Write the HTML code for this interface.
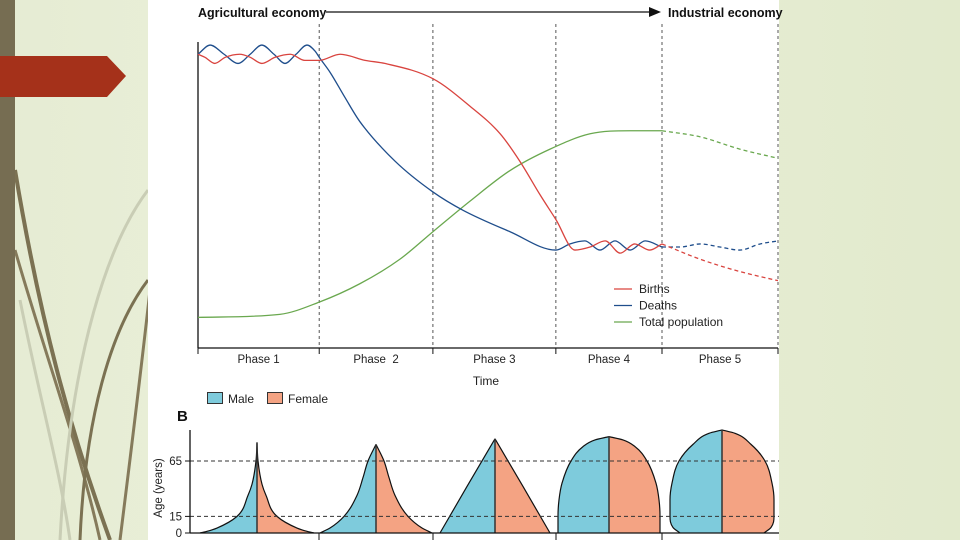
<!DOCTYPE html>
<html><head><meta charset="utf-8">
<style>
html,body{margin:0;padding:0}
body{width:960px;height:540px;overflow:hidden;position:relative;background:linear-gradient(90deg,#e6ecd3 0%,#e9efd9 30%,#e2eacd 100%);font-family:"Liberation Sans",sans-serif}
svg{position:absolute;left:0;top:0}
</style></head>
<body>
<svg width="960" height="540">
  <g>
    <path d="M150,290 C140,380 130,460 120,540" stroke="#857a5b" stroke-width="3" fill="none"/>
    <path d="M15,170 C40,320 70,430 110,540" stroke="#7b7152" stroke-width="4" fill="none"/>
    <path d="M15,250 C50,370 80,450 100,540" stroke="#857a5b" stroke-width="3" fill="none"/>
    <path d="M148,280 C110,330 85,420 80,540" stroke="#7b7152" stroke-width="3" fill="none"/>
    <path d="M148,190 C110,240 70,350 60,540" stroke="#c9cdb5" stroke-width="3" fill="none"/>
    <path d="M20,300 C40,400 60,470 70,540" stroke="#c9cdb5" stroke-width="3" fill="none"/>
    <rect x="0" y="0" width="15" height="540" fill="#766d52"/>
    <path d="M0,56 L107,56 L126,76 L107,97 L0,97 Z" fill="#a5311a"/>
  </g>
  <rect x="148" y="0" width="631" height="540" fill="#ffffff"/>
  <g id="chartA"></g>
  <g id="chartB"></g>
</svg>
<script>
// ---- Chart A data ----
const phaseLabels = ["Phase 1","Phase\u00a0\u00a02","Phase 3","Phase 4","Phase 5"];
const phaseBounds = [0, 20.9, 40.5, 61.7, 80, 100];
const projectionStart = 80;
const birthT = [0,1.2,2.9,4.7,7.2,9,11,13.3,15.9,18.4,20.9,24.5,28.8,32.2,40.5,46.9,52.1,55.5,59,61.7,65,67.6,70.2,72.8,75.3,77.9,80,86.6,93.4,100];
const birthV = [96,95,93,95,96,95,93,95,96,94,94,96,94,93,88,79,70,61,50,42,32,33,35,31,34,32,34,29,25,22];
const deathT = [0,2.1,4.5,6.9,9,11,13.1,15,16.9,18.8,20.2,20.9,22.8,25.3,27.9,34,40.5,45.7,53.8,61.7,64.1,66.7,69.3,71.9,74.5,77.1,80,83.1,86.6,90,93.4,96.9,100];
const deathV = [96,99,96,93,96,99,96,93,96,99,97,95,90,82,74,61,51,45,38,32,34,35,32,35,32,35,33,33,34,33,32,34,35];
const popT = [0,14.1,20.9,27.9,34.8,40.5,46.9,53.8,60.7,67.6,74.5,80,86.6,93.4,100];
const popV = [10,11,15,21,29,38,48,58,65,70,71,71,69,65,62];
const legendLabels = ["Births","Deaths","Total population"];

// ---- Chart B data ----
const pyramidAges = [
  [0,1.5,4.5,15,34,44,65,81],
  [0,4.5,15,34,50,65,80],
  [0,42,85],
  [0,15,30,45,65,78,84,87],
  [0,5,15,30,45,65,80,90,93]
];
const pyramidHalfWidths = [
  [57,50,40,20,9,5,1,0],
  [56,46,32,19,13,8,0],
  [55,28,0],
  [51,51,50,47,38,26,14,0],
  [42,49,52,52,50,43,29,13,0]
];
const pyramidSmooth = [true,true,false,true,true];
const ageTicks = [0,15,65];

const NS="http://www.w3.org/2000/svg";
function mk(tag,attrs,parent){const e=document.createElementNS(NS,tag);for(const k in attrs)e.setAttribute(k,attrs[k]);parent.appendChild(e);return e;}
function mono(us,ws,map){
  const n=us.length;const d=[],m=new Array(n);
  for(let i=0;i<n-1;i++)d.push((ws[i+1]-ws[i])/(us[i+1]-us[i]));
  m[0]=d[0];m[n-1]=d[n-2];
  for(let i=1;i<n-1;i++){m[i]=(d[i-1]*d[i]<=0)?0:(d[i-1]+d[i])/2;}
  for(let i=0;i<n-1;i++){if(d[i]===0){m[i]=0;m[i+1]=0;continue;}const a=m[i]/d[i],b=m[i+1]/d[i],s=a*a+b*b;if(s>9){const tt=3/Math.sqrt(s);m[i]=tt*a*d[i];m[i+1]=tt*b*d[i];}}
  let p=map(us[0],ws[0]);let str="M"+p[0]+","+p[1];
  for(let i=0;i<n-1;i++){const h=us[i+1]-us[i];
    const c1=map(us[i]+h/3,ws[i]+m[i]*h/3),c2=map(us[i+1]-h/3,ws[i+1]-m[i+1]*h/3),e=map(us[i+1],ws[i+1]);
    str+=" C"+c1[0]+","+c1[1]+" "+c2[0]+","+c2[1]+" "+e[0]+","+e[1];}
  return str;
}

// Chart A
const A=document.getElementById('chartA');
const X0=198,X1=778,YB=348,YT=42;
const xS=t=>X0+(t/100)*(X1-X0);
const yS=v=>YB-(v/100)*(YB-YT);
let t;
t=mk('text',{x:198,y:17,'font-size':12.5,'font-weight':'bold',fill:'#111'},A);t.textContent="Agricultural economy";

t=mk('line',{x1:326,y1:12,x2:650,y2:12,stroke:'#111','stroke-width':1.3},A);

mk('path',{d:'M649,7 L661,12 L649,17 Z',fill:'#111'},A);
t=mk('text',{x:668,y:17,'font-size':12.5,'font-weight':'bold',fill:'#111'},A);t.textContent="Industrial economy";

for(let i=1;i<phaseBounds.length;i++){
  const x=xS(phaseBounds[i]);
  const l=mk('line',{x1:x,y1:24,x2:x,y2:YB,stroke:'#555','stroke-width':1,'stroke-dasharray':'3,3'},A);
  
  
}
mk('line',{x1:X0,y1:YT,x2:X0,y2:YB,stroke:'#111','stroke-width':1.3},A);
mk('line',{x1:X0,y1:YB,x2:X1,y2:YB,stroke:'#111','stroke-width':1.3},A);
for(let i=0;i<phaseBounds.length;i++){const x=xS(phaseBounds[i]);mk('line',{x1:x,y1:YB,x2:x,y2:YB+6,stroke:'#111'},A);}
phaseLabels.forEach((p,i)=>{
  const tx=mk('text',{x:(xS(phaseBounds[i])+xS(phaseBounds[i+1]))/2,y:363,'font-size':11.5,'text-anchor':'middle',fill:'#222'},A);
  tx.textContent=p;
  
  
});
t=mk('text',{x:486,y:385,'font-size':12,'text-anchor':'middle',fill:'#222'},A);t.textContent="Time";

const mapA=(u,w)=>[xS(u).toFixed(2),yS(w).toFixed(2)];
function series(T,V,color,name){
  const sT=[],sV=[],dT=[],dV=[];
  T.forEach((tt,i)=>{if(tt<=projectionStart){sT.push(tt);sV.push(V[i]);}if(tt>=projectionStart){dT.push(tt);dV.push(V[i]);}});
  const s=mk('path',{d:mono(sT,sV,mapA),fill:'none',stroke:color,'stroke-width':1.3},A);
  
  
  const d=mk('path',{d:mono(dT,dV,mapA),fill:'none',stroke:color,'stroke-width':1.3,'stroke-dasharray':'4,3'},A);
  
  
}
series(popT,popV,'#6aa84f','population');
series(deathT,deathV,'#1f4e8c','deaths');
series(birthT,birthV,'#d9443f','births');
const lc=['#d9443f','#1f4e8c','#6aa84f'];
legendLabels.forEach((lab,i)=>{
  const y=289+i*16.5;
  const g=mk('g',{},A);
  
  
  mk('line',{x1:614,y1:y,x2:632,y2:y,stroke:lc[i],'stroke-width':1.3},g);
  const tx=mk('text',{x:639,y:y+4,'font-size':12,fill:'#222'},g);tx.textContent=lab;
});

// Chart B
const B=document.getElementById('chartB');
const centers=[257,376,495,609,722];
const BY0=533;
const ageY=a=>BY0-a*(BY0-461)/65;
const maleC='#7ecbdc',femC='#f4a383';
let g=mk('g',{},B);
mk('rect',{x:207.5,y:392.5,width:15,height:11,fill:maleC,stroke:'#333'},g);
t=mk('text',{x:228,y:403,'font-size':12,fill:'#222'},g);t.textContent="Male";
g=mk('g',{},B);
mk('rect',{x:267.5,y:392.5,width:15,height:11,fill:femC,stroke:'#333'},g);
t=mk('text',{x:288,y:403,'font-size':12,fill:'#222'},g);t.textContent="Female";
t=mk('text',{x:177,y:421,'font-size':15,'font-weight':'bold',fill:'#111'},B);t.textContent="B";

t=mk('text',{x:0,y:0,'font-size':11.5,fill:'#222','text-anchor':'middle',transform:'translate(162,488) rotate(-90)'},B);t.textContent="Age (years)";

pyramidAges.forEach((ages,k)=>{
  const c=centers[k],hw=pyramidHalfWidths[k];
  const top=ageY(ages[ages.length-1]);
  let ld,rd;
  if(pyramidSmooth[k]){
    ld=mono(ages,hw,(a,w)=>[(c-w).toFixed(2),ageY(a).toFixed(2)]);
    rd=mono(ages,hw,(a,w)=>[(c+w).toFixed(2),ageY(a).toFixed(2)]);
  }else{
    ld="M"+ages.map((a,i)=>(c-hw[i])+","+ageY(a)).join(" L");
    rd="M"+ages.map((a,i)=>(c+hw[i])+","+ageY(a)).join(" L");
  }
  const m=mk('path',{d:ld+" L"+c+","+BY0+" Z",fill:maleC,stroke:'none'},B);
  
  
  const f=mk('path',{d:rd+" L"+c+","+BY0+" Z",fill:femC,stroke:'none'},B);
  
  
  mk('path',{d:ld,fill:'none',stroke:'#111','stroke-width':1.2},B);
  mk('path',{d:rd,fill:'none',stroke:'#111','stroke-width':1.2},B);
  mk('line',{x1:c,y1:k===0?top-1:top,x2:c,y2:BY0,stroke:'#333','stroke-width':1.5},B);
});
ageTicks.forEach(a=>{
  const y=ageY(a);
  if(a>0){const l=mk('line',{x1:190,y1:y,x2:779,y2:y,stroke:'#333','stroke-width':1,'stroke-dasharray':'4,3'},B);
  
  }
  mk('line',{x1:185,y1:y,x2:190,y2:y,stroke:'#111'},B);
  const tx=mk('text',{x:182,y:y+4,'font-size':11.5,'text-anchor':'end',fill:'#222'},B);tx.textContent=a;
  
  
});
mk('line',{x1:190,y1:430,x2:190,y2:BY0,stroke:'#111','stroke-width':1.3},B);
mk('line',{x1:190,y1:BY0,x2:779,y2:BY0,stroke:'#111','stroke-width':1.3},B);
[319,433,556,662].forEach(x=>mk('line',{x1:x,y1:BY0,x2:x,y2:540,stroke:'#111'},B));
</script>
</body></html>
